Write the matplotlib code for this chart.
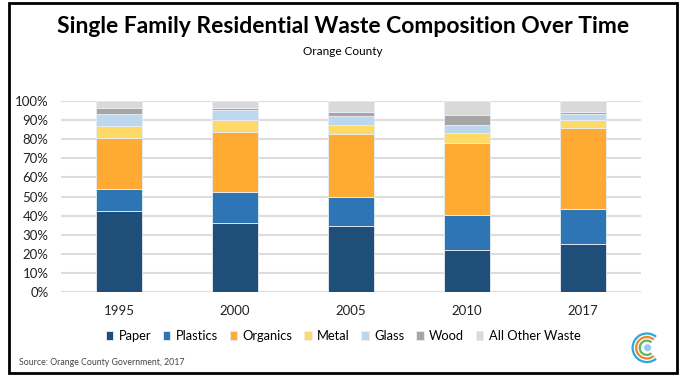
import matplotlib.pyplot as plt
from matplotlib.patches import Rectangle, Arc, Circle
import numpy as np

years = ["1995", "2000", "2005", "2010", "2017"]
categories = ["Paper", "Plastics", "Organics", "Metal", "Glass", "Wood", "All Other Waste"]
colors = ["#1F4E79", "#2E75B6", "#FFAA33", "#FFD966", "#BDD7EE", "#A5A5A5", "#D9D9D9"]

# shares in percent
paper = [42.2, 36.2, 34.8, 22.2, 24.9]
plastics = [11.7, 16.1, 14.7, 18.2, 18.3]
organics = [26.7, 31.4, 33.4, 37.4, 42.6]
metal = [6.5, 6.3, 4.5, 5.4, 4.4]
glass = [6.2, 5.3, 4.7, 4.1, 3.1]
wood = [3.0, 1.2, 2.1, 5.5, 1.1]
other = [3.7, 3.5, 5.8, 7.2, 5.6]
series = [paper, plastics, organics, metal, glass, wood, other]

plt.rcParams['font.family'] = ['Lato', 'DejaVu Sans']

fig = plt.figure(figsize=(6.86, 3.78), dpi=100)
ax = fig.add_axes([0.0889, 0.2275, 0.8455, 0.5053])

x = np.arange(len(years))
bottom = np.zeros(len(years))
for name, vals, c in zip(categories, series, colors):
    vals = np.array(vals) / 100.0
    ax.bar(x, vals, 0.4, bottom=bottom, color=c, label=name,
           edgecolor="#E8EEF5", linewidth=0.6, zorder=3)
    bottom += vals

ax.set_xlim(-0.5, len(years) - 0.5)
ax.set_ylim(0, 1)
ax.set_yticks(np.arange(0, 1.01, 0.1))
ax.set_yticklabels([f"{int(round(v * 100))}%" for v in np.arange(0, 1.01, 0.1)])
ax.set_xticks(x)
ax.set_xticklabels(years)
ax.tick_params(axis="both", length=0, labelsize=9.5, colors="#222222")
ax.tick_params(axis="y", pad=9)
ax.tick_params(axis="x", pad=9)
ax.grid(axis="y", color="#DDDDDD", linewidth=1.5, zorder=0)
for s in ax.spines.values():
    s.set_visible(False)

fig.text(0.5, 0.93, "Single Family Residential Waste Composition Over Time",
         ha="center", va="center", fontsize=16.5, fontweight="bold")
fig.text(0.5, 0.865, "Orange County", ha="center", va="center", fontsize=8.5)

leg = fig.legend(loc="center", bbox_to_anchor=(0.5, 0.111), ncol=7, frameon=False,
                 fontsize=9.3, handlelength=0.6, handleheight=0.6, handletextpad=0.4,
                 columnspacing=0.9)

fig.text(0.028, 0.042, "Source: Orange County Government, 2017", ha="left",
         va="center", fontsize=6.3, color="#444444")

# outer frame
fig.add_artist(Rectangle((0.013, 0.012), 0.974, 0.98, transform=fig.transFigure,
                         fill=False, edgecolor="black", linewidth=2))

# small logo at bottom right
lax = fig.add_axes([0.918, 0.03, 0.05, 0.1])
lax.set_xlim(-1.2, 1.2)
lax.set_ylim(-1.2, 1.2)
lax.set_aspect("equal")
lax.axis("off")
for r, c in [(1.0, "#29A8E0"), (0.75, "#F0822E"), (0.5, "#5BB85D")]:
    lax.add_patch(Arc((0, 0), 2 * r, 2 * r, theta1=50, theta2=310, color=c, linewidth=1.6))
lax.add_patch(Circle((0.05, 0), 0.2, color="#9CC8EC"))

fig.savefig("out.png", dpi=100)
